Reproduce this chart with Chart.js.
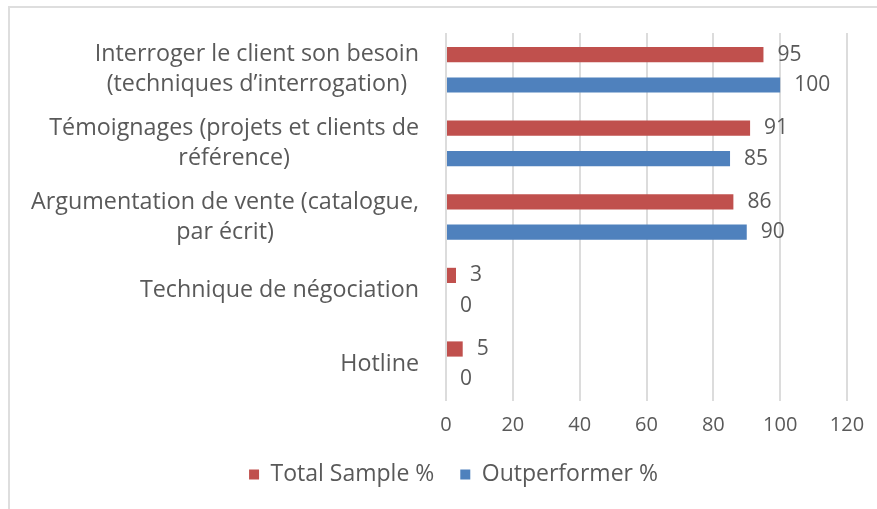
<!DOCTYPE html>
<html lang="fr">
<head>
<meta charset="utf-8">
<title>Techniques de vente</title>
<script src="https://cdn.jsdelivr.net/npm/chart.js@4/dist/chart.umd.min.js"></script>
<style>
  html, body { margin: 0; padding: 0; background: #fff; }
  #wrap { position: relative; width: 877px; height: 509px; }
  #frame {
    position: absolute; left: 8px; top: 6px; right: -10px; bottom: -10px;
    border-top: 2px solid #dedede; border-left: 2px solid #dedede;
  }
  canvas { position: absolute; left: 0; top: 0; }
</style>
</head>
<body>
<div id="wrap">
  <div id="frame"></div>
  <canvas id="chart" width="877" height="509"></canvas>
</div>
<script>
// ── Data ──────────────────────────────────────────────────
const categories = [
  ["Interroger le client son besoin", "(techniques d\u2019interrogation)"],
  ["T\u00e9moignages (projets et clients de", "r\u00e9f\u00e9rence)"],
  ["Argumentation de vente (catalogue,", "par \u00e9crit)"],
  ["Technique de n\u00e9gociation"],
  ["Hotline"],
];
const totalSample = [95, 91, 86, 3, 5];
const outperformer = [100, 85, 90, 0, 0];
const xTicks = [0, 20, 40, 60, 80, 100, 120];

// ── Style ─────────────────────────────────────────────────
const FONT = "'Open Sans', 'Liberation Sans', sans-serif";
const TEXT = "#595959";
const RED = "#C0504D";
const BLUE = "#4F81BD";

// category labels: block right-aligned to the axis, lines centred in the block
const categoryLabels = {
  id: "categoryLabels",
  afterDraw(chart) {
    const { ctx } = chart;
    const y = chart.scales.y;
    ctx.save();
    ctx.font = `23.3px ${FONT}`;
    ctx.fillStyle = TEXT;
    ctx.textAlign = "center";
    ctx.textBaseline = "middle";
    const right = chart.chartArea.left - 27;
    categories.forEach((lines, i) => {
      const cy = y.getPixelForTick(i);
      const w = Math.max(...lines.map((l) => ctx.measureText(l).width));
      const cx = right - w / 2;
      lines.forEach((line, j) => {
        ctx.fillText(line, cx, cy + (j - (lines.length - 1) / 2) * 30);
      });
    });
    ctx.restore();
  },
};

// value labels to the right of each bar
const valueLabels = {
  id: "valueLabels",
  afterDatasetsDraw(chart) {
    const { ctx } = chart;
    ctx.save();
    ctx.font = `21px ${FONT}`;
    ctx.fillStyle = TEXT;
    ctx.textAlign = "left";
    ctx.textBaseline = "middle";
    chart.data.datasets.forEach((ds, di) => {
      chart.getDatasetMeta(di).data.forEach((bar, i) => {
        ctx.fillText(String(ds.data[i]), bar.x + 14, bar.y);
      });
    });
    ctx.restore();
  },
};

new Chart(document.getElementById("chart"), {
  type: "bar",
  data: {
    labels: categories,
    datasets: [
      { label: "Total Sample %", data: totalSample, backgroundColor: RED },
      { label: "Outperformer %", data: outperformer, backgroundColor: BLUE },
    ],
  },
  options: {
    indexAxis: "y",
    responsive: false,
    animation: false,
    categoryPercentage: 0.826,
    barPercentage: 0.5,
    layout: { padding: { left: 60, right: 30, top: 33, bottom: 13 } },
    plugins: {
      tooltip: { enabled: false },
      legend: {
        position: "bottom",
        labels: {
          boxWidth: 10,
          boxHeight: 10,
          padding: 26,
          color: TEXT,
          font: { family: FONT, size: 23 },
        },
      },
    },
    scales: {
      x: {
        min: 0,
        max: 120,
        afterBuildTicks: (s) => { s.ticks = xTicks.map((v) => ({ value: v })); },
        afterFit: (s) => { s.height = 36; },
        ticks: { color: TEXT, font: { family: FONT, size: 20 }, padding: 12 },
        grid: { color: "#dcdcdc", lineWidth: 2, drawTicks: false },
        border: { display: false },
      },
      y: {
        afterFit: (s) => { s.width = 386; },
        ticks: { display: false },
        grid: { display: false, drawTicks: false },
        border: { display: false },
      },
    },
  },
  plugins: [categoryLabels, valueLabels],
});
</script>
</body>
</html>
